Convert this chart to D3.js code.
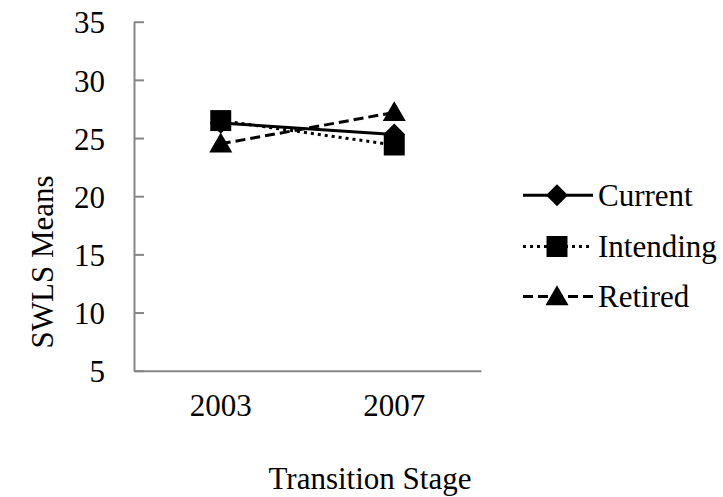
<!DOCTYPE html>
<html>
<head>
<meta charset="utf-8">
<script src="https://cdn.jsdelivr.net/npm/d3@7"></script>
<style>
  html, body { margin: 0; padding: 0; background: #fff; }
  svg { display: block; }
  text { font-family: "Liberation Serif", "DejaVu Serif", serif; fill: #000; }
</style>
</head>
<body>
<svg id="chart" width="723" height="497"></svg>
<script>
// Data
const years = ["2003", "2007"];
const seriesNames = ["Current", "Intending", "Retired"];
const currentValues = [26.3, 25.3];
const intendingValues = [26.5, 24.4];
const retiredValues = [24.5, 27.2];
const yTicks = [5, 10, 15, 20, 25, 30, 35];
const xTitle = "Transition Stage";
const yTitle = "SWLS Means";

const seriesData = [
  { name: seriesNames[0], values: currentValues, dash: null, marker: "diamond" },
  { name: seriesNames[1], values: intendingValues, dash: "3,4", marker: "square" },
  { name: seriesNames[2], values: retiredValues, dash: "10,5", marker: "triangle" }
];

const FONT = "31px";
const FAMILY = "'Liberation Serif', 'DejaVu Serif', serif";
const svg = d3.select("#chart");
const plotLeft = 134, plotRight = 481, plotTop = 21.7, plotBottom = 370.7;

const x = d3.scaleBand().domain(years).range([plotLeft, plotRight]).padding(0);
const y = d3.scaleLinear().domain([5, 35]).range([plotBottom, plotTop]);
const axisColor = "#868686";

// Y axis
const yAxis = svg.append("g")
  .attr("transform", `translate(${plotLeft},0)`)
  .call(d3.axisLeft(y).tickValues(yTicks).tickSizeInner(-10).tickSizeOuter(0).tickPadding(29).tickFormat(d3.format("d")));
yAxis.attr("font-family", FAMILY).attr("font-size", FONT);
yAxis.select(".domain").attr("stroke", axisColor).attr("stroke-width", 2);
yAxis.selectAll(".tick line").attr("stroke", axisColor).attr("stroke-width", 2);
yAxis.selectAll(".tick text").style("font-size", FONT).style("font-family", FAMILY).attr("dy", "0.36em").attr("fill", "#000");

// X axis
const xAxis = svg.append("g")
  .attr("transform", `translate(0,${plotBottom})`)
  .call(d3.axisBottom(x).tickSize(0).tickPadding(23));
xAxis.attr("font-family", FAMILY).attr("font-size", FONT);
xAxis.select(".domain").attr("stroke", axisColor).attr("stroke-width", 2);
xAxis.selectAll(".tick text").style("font-size", FONT).style("font-family", FAMILY).attr("fill", "#000");

// Titles
svg.append("text")
  .attr("x", 370)
  .attr("y", 489)
  .attr("text-anchor", "middle")
  .style("font-size", FONT)
  .style("font-family", FAMILY)
  .text(xTitle);

svg.append("text")
  .attr("transform", "translate(53,262) rotate(-90)")
  .attr("text-anchor", "middle")
  .style("font-size", FONT)
  .style("font-family", FAMILY)
  .text(yTitle);

// Marker shapes
const symbolFor = {
  diamond: d3.symbol().type(d3.symbolSquare).size(240),
  square: d3.symbol().type(d3.symbolSquare).size(440),
  triangle: d3.symbol().type(d3.symbolTriangle).size(230)
};
function drawMarker(g, type, cx, cy) {
  const p = g.append("path")
    .attr("d", symbolFor[type]())
    .attr("fill", "#000");
  if (type === "diamond") p.attr("transform", `translate(${cx},${cy}) rotate(45)`);
  else if (type === "triangle") p.attr("transform", `translate(${cx},${cy + 2})`);
  else p.attr("transform", `translate(${cx},${cy})`);
}

const line = d3.line()
  .x((d, i) => x(years[i]) + x.bandwidth() / 2)
  .y(d => y(d));

const plot = svg.append("g");
seriesData.forEach(s => {
  const g = plot.append("g");
  g.append("path")
    .attr("d", line(s.values))
    .attr("fill", "none")
    .attr("stroke", "#000")
    .attr("stroke-width", 3)
    .attr("stroke-dasharray", s.dash);
  s.values.forEach((v, i) => {
    drawMarker(g, s.marker, x(years[i]) + x.bandwidth() / 2, y(v));
  });
});

// Legend
const legendRows = [195.3, 246.5, 296.5];
const legend = svg.append("g");
seriesData.forEach((s, i) => {
  const ly = legendRows[i];
  const g = legend.append("g");
  g.append("line")
    .attr("x1", 523).attr("x2", 593)
    .attr("y1", ly).attr("y2", ly)
    .attr("stroke", "#000")
    .attr("stroke-width", 3)
    .attr("stroke-dasharray", s.dash);
  drawMarker(g, s.marker, 557, ly);
  g.append("text")
    .attr("x", 598)
    .attr("y", ly)
    .attr("dy", "0.35em")
    .style("font-size", FONT)
    .style("font-family", FAMILY)
    .text(s.name);
});
</script>
</body>
</html>
